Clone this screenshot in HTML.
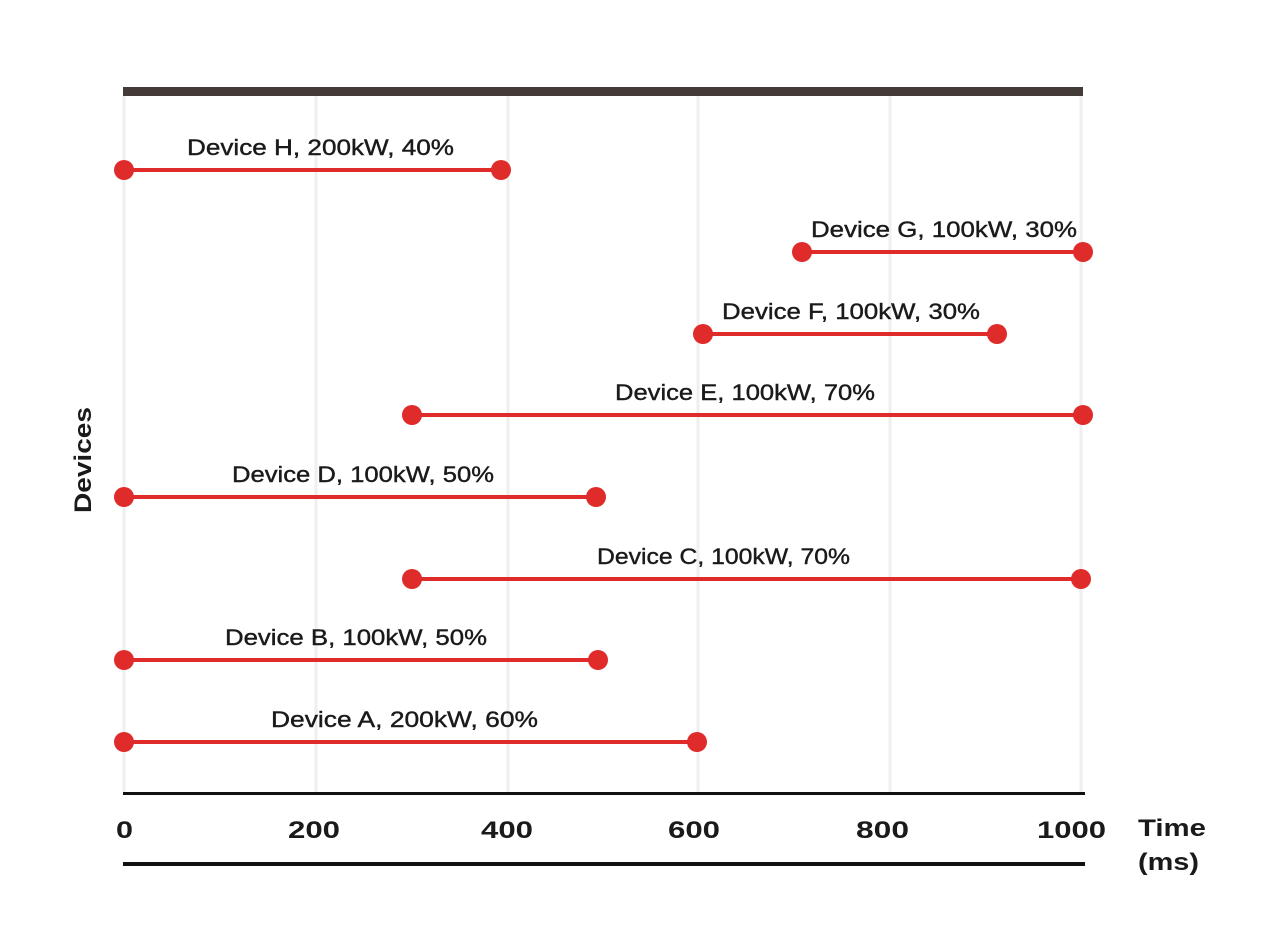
<!DOCTYPE html>
<html><head><meta charset="utf-8"><style>body{margin:0;background:#fff}svg{display:block}</style></head><body>
<svg width="1280" height="951" viewBox="0 0 1280 951" xmlns="http://www.w3.org/2000/svg" font-family="Liberation Sans, sans-serif">
<rect width="1280" height="951" fill="#fff"/>
<g stroke="#f1eeee" stroke-width="3">
<line x1="124" y1="96" x2="124" y2="792"/><line x1="316" y1="96" x2="316" y2="792"/><line x1="508" y1="96" x2="508" y2="792"/><line x1="698" y1="96" x2="698" y2="792"/><line x1="890" y1="96" x2="890" y2="792"/><line x1="1081" y1="96" x2="1081" y2="792"/>
</g>
<rect x="123" y="87" width="960" height="9" fill="#433b37"/>
<rect x="123" y="792" width="962" height="3" fill="#111"/>
<rect x="123" y="862" width="962" height="4" fill="#111"/>
<g font-size="24" font-weight="bold" fill="#1a1a1a" lengthAdjust="spacingAndGlyphs">
<text x="116" y="838" textLength="17" lengthAdjust="spacingAndGlyphs">0</text>
<text x="288" y="838" textLength="52" lengthAdjust="spacingAndGlyphs">200</text>
<text x="481" y="838" textLength="52" lengthAdjust="spacingAndGlyphs">400</text>
<text x="668" y="838" textLength="52" lengthAdjust="spacingAndGlyphs">600</text>
<text x="856" y="838" textLength="53" lengthAdjust="spacingAndGlyphs">800</text>
<text x="1037" y="838" textLength="69" lengthAdjust="spacingAndGlyphs">1000</text>
<text x="1138" y="836" textLength="68" lengthAdjust="spacingAndGlyphs">Time</text>
<text x="1138" y="870" textLength="61" lengthAdjust="spacingAndGlyphs">(ms)</text>
<text transform="translate(91,513) rotate(-90)" textLength="106" lengthAdjust="spacingAndGlyphs">Devices</text>
</g>
<g stroke="#e02b2b" stroke-width="4">
<line x1="124" y1="170" x2="501" y2="170"/><line x1="802" y1="252" x2="1083" y2="252"/><line x1="703" y1="334" x2="997" y2="334"/><line x1="412" y1="415" x2="1083" y2="415"/><line x1="124" y1="497" x2="596" y2="497"/><line x1="412" y1="579" x2="1081" y2="579"/><line x1="124" y1="660" x2="598" y2="660"/><line x1="124" y1="742" x2="697" y2="742"/>
</g>
<g fill="#e02b2b">
<circle cx="124" cy="170" r="10"/><circle cx="501" cy="170" r="10"/>
<circle cx="802" cy="252" r="10"/><circle cx="1083" cy="252" r="10"/>
<circle cx="703" cy="334" r="10"/><circle cx="997" cy="334" r="10"/>
<circle cx="412" cy="415" r="10"/><circle cx="1083" cy="415" r="10"/>
<circle cx="124" cy="497" r="10"/><circle cx="596" cy="497" r="10"/>
<circle cx="412" cy="579" r="10"/><circle cx="1081" cy="579" r="10"/>
<circle cx="124" cy="660" r="10"/><circle cx="598" cy="660" r="10"/>
<circle cx="124" cy="742" r="10"/><circle cx="697" cy="742" r="10"/>
</g>
<g font-size="22" fill="#1a1a1a" stroke="#1a1a1a" stroke-width="0.4">
<text x="187" y="155" textLength="267" lengthAdjust="spacingAndGlyphs">Device H, 200kW, 40%</text>
<text x="811" y="237" textLength="266" lengthAdjust="spacingAndGlyphs">Device G, 100kW, 30%</text>
<text x="722" y="319" textLength="258" lengthAdjust="spacingAndGlyphs">Device F, 100kW, 30%</text>
<text x="615" y="400" textLength="260" lengthAdjust="spacingAndGlyphs">Device E, 100kW, 70%</text>
<text x="232" y="482" textLength="262" lengthAdjust="spacingAndGlyphs">Device D, 100kW, 50%</text>
<text x="597" y="564" textLength="253" lengthAdjust="spacingAndGlyphs">Device C, 100kW, 70%</text>
<text x="225" y="645" textLength="262" lengthAdjust="spacingAndGlyphs">Device B, 100kW, 50%</text>
<text x="271" y="727" textLength="267" lengthAdjust="spacingAndGlyphs">Device A, 200kW, 60%</text>
</g>
</svg>
</body></html>
